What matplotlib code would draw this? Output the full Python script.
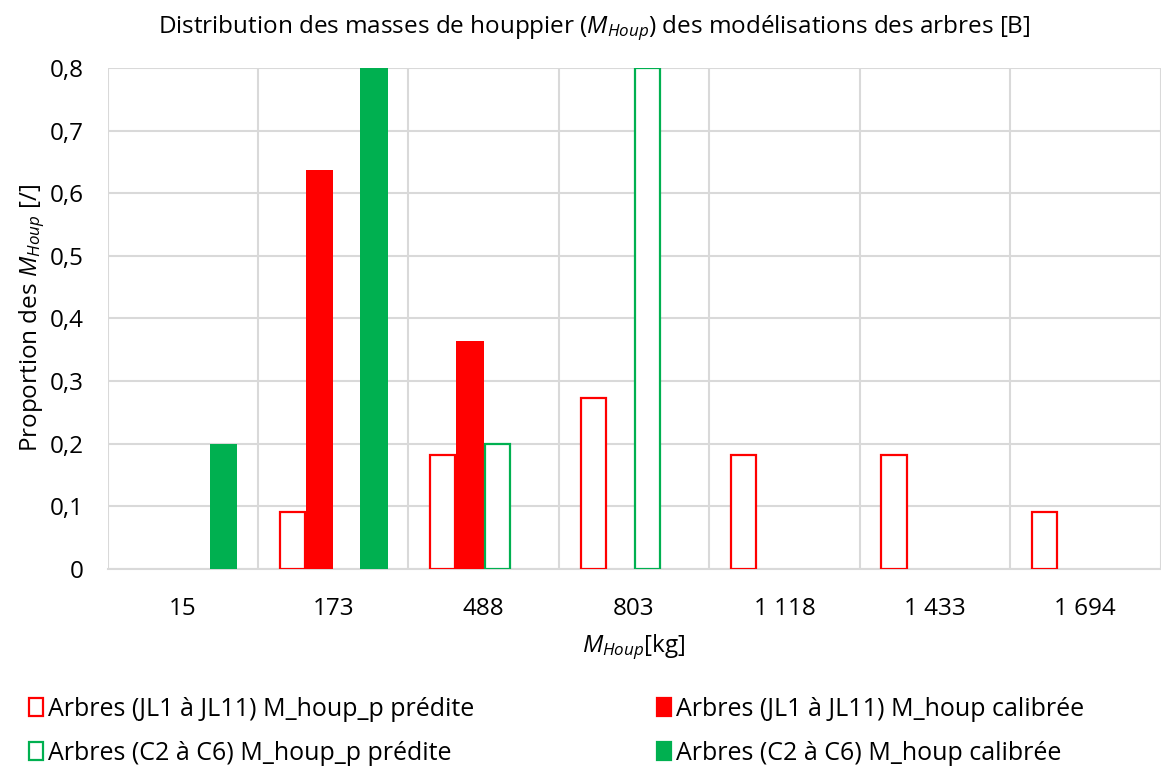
import numpy as np
import matplotlib
matplotlib.use("Agg")
from matplotlib import pyplot as plt
from matplotlib.patches import Patch
from matplotlib.ticker import FuncFormatter, MultipleLocator

plt.rcParams["font.family"] = ["Open Sans", "DejaVu Sans"]
plt.rcParams["mathtext.fontset"] = "custom"
plt.rcParams["mathtext.rm"] = "Open Sans"
plt.rcParams["mathtext.it"] = "Open Sans:italic"

RED = "#FF0000"
GREEN = "#00B050"
GRID = "#D9D9D9"
FS = 17.5

classes = ["15", "173", "488", "803", "1 118", "1 433", "1 694"]
jl_predite = [0, 1/11, 2/11, 3/11, 2/11, 2/11, 1/11]
jl_calibree = [0, 7/11, 4/11, 0, 0, 0, 0]
c_predite = [0, 0, 0.2, 0.8, 0, 0, 0]
c_calibree = [0.2, 0.8, 0, 0, 0, 0, 0]

series = [
    ("Arbres (JL1 à JL11) M_houp_p prédite", jl_predite, RED, False),
    ("Arbres (JL1 à JL11) M_houp calibrée", jl_calibree, RED, True),
    ("Arbres (C2 à C6) M_houp_p prédite", c_predite, GREEN, False),
    ("Arbres (C2 à C6) M_houp calibrée", c_calibree, GREEN, True),
]


def plot_distribution():
    fig = plt.figure(figsize=(11.61, 7.73), dpi=100)
    ax = fig.add_axes([0.0926, 0.264, 0.9070, 0.648])

    x = np.arange(len(classes))
    width = 0.181
    offsets = (np.arange(4) - 1.5) * width
    for (name, vals, color, filled), off in zip(series, offsets):
        vals = np.array(vals, dtype=float)
        keep = vals > 0
        if filled:
            ax.bar(x[keep] + off, vals[keep], width, color=color,
                   linewidth=0, zorder=3)
        else:
            ax.bar(x[keep] + off, vals[keep], width * 0.93, facecolor="white",
                   edgecolor=color, linewidth=1.6, zorder=3)

    ax.set_xlim(-0.5, len(classes) - 0.5)
    ax.set_ylim(0, 0.8)
    ax.yaxis.set_major_locator(MultipleLocator(0.1))
    ax.yaxis.set_major_formatter(
        FuncFormatter(lambda v, p: "0" if abs(v) < 1e-9 else f"{v:.1f}".replace(".", ",")))
    ax.set_xticks(x)
    ax.set_xticklabels(classes)
    ax.set_xticks(np.arange(len(classes) + 1) - 0.5, minor=True)
    ax.tick_params(axis="both", which="both", length=0, labelsize=FS)
    ax.tick_params(axis="x", pad=20)
    ax.tick_params(axis="y", pad=17)

    ax.grid(axis="y", which="major", color=GRID, linewidth=1.5, zorder=0)
    ax.grid(axis="x", which="minor", color=GRID, linewidth=1.5, zorder=0)
    ax.grid(axis="x", which="major", visible=False)
    for side in ["top", "right", "left"]:
        ax.spines[side].set_visible(False)
    ax.spines["bottom"].set_color(GRID)
    ax.spines["bottom"].set_linewidth(1.5)

    fig.text(0.512, 0.963,
             r"Distribution des masses de houppier ($M_{Houp}$) des modélisations des arbres [B]",
             fontsize=FS, ha="center", va="center")
    ax.set_ylabel(r"Proportion des $M_{Houp}$ [/]", fontsize=FS, labelpad=2)
    ax.set_xlabel(r"$M_{Houp}$[kg]", fontsize=FS, labelpad=8)

    # legend: one column of two entries on each side
    for idx, xpos in [((0, 2), 0.012), ((1, 3), 0.553)]:
        hs = [Patch(facecolor=series[i][2] if series[i][3] else "white",
                    edgecolor=series[i][2], linewidth=1.6) for i in idx]
        fig.legend(hs, [series[i][0] for i in idx],
                   loc="lower left", bbox_to_anchor=(xpos, -0.01),
                   frameon=False, fontsize=FS + 0.5, handlelength=0.55,
                   handleheight=0.7, handletextpad=0.2, labelspacing=0.75,
                   borderaxespad=0.2)

    fig.savefig("out.png", dpi=100)


if __name__ == "__main__":
    plot_distribution()
